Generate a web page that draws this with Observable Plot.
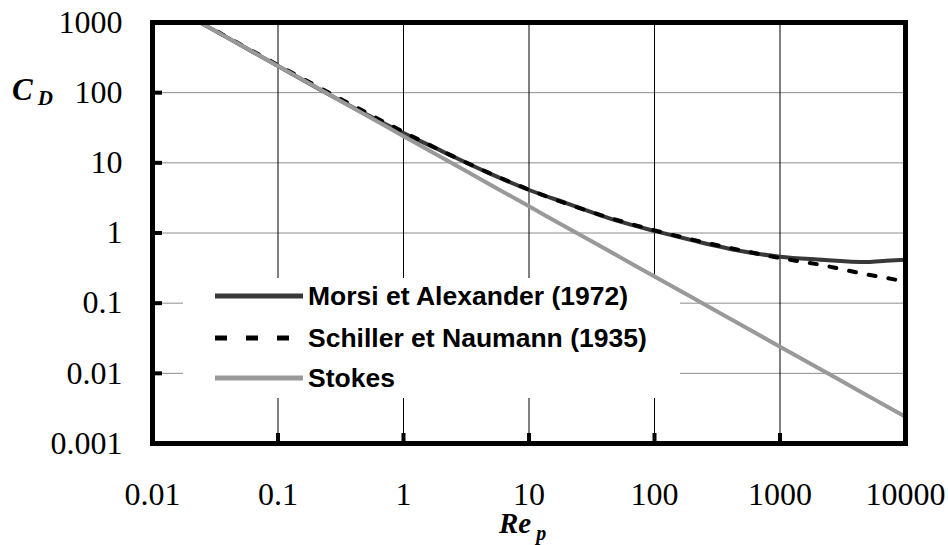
<!DOCTYPE html>
<html>
<head>
<meta charset="utf-8">
<script src="https://cdn.jsdelivr.net/npm/d3@7"></script>
<script src="https://cdn.jsdelivr.net/npm/@observablehq/plot@0.6"></script>
<style>
  html, body { margin: 0; padding: 0; background: #fff; }
  #chart { width: 948px; height: 545px; }
</style>
</head>
<body>
<div id="chart"></div>
<script>
// Tick values
const xTicks = [0.01, 0.1, 1, 10, 100, 1000, 10000];
const yTicks = [0.001, 0.01, 0.1, 1, 10, 100, 1000];

// Particle Reynolds numbers at which the curves were read
const rep = [0.024, 0.05, 0.1, 0.2, 0.5, 1, 2, 5, 10, 20, 50, 100, 200, 500, 1000, 2000, 5000, 7000, 10000];
// Drag coefficient values
const morsiCd    = [1000, 480, 240, 119.6, 49.5, 26.5, 14.83, 6.90, 4.10, 2.65, 1.50, 1.07, 0.787, 0.550, 0.460, 0.419, 0.385, 0.402, 0.417];
const schillerCd = [1011.6, 489.2, 247.4, 126.0, 52.47, 27.6, 14.9, 6.975, 4.151, 2.61, 1.538, 1.092, 0.806, 0.563, 0.438, 0.358, 0.255, 0.229, 0.203];
const stokesCd   = [1000, 480, 240, 120, 48, 24, 12, 4.8, 2.4, 1.2, 0.48, 0.24, 0.12, 0.048, 0.024, 0.012, 0.0048, 0.00343, 0.0024];

const seriesNames = ["Morsi et Alexander (1972)", "Schiller et Naumann (1935)", "Stokes"];

const rows = (ys) => rep.map((r, i) => ({re: r, cd: ys[i]}));

const serif = "'Liberation Serif', 'Times New Roman', serif";
const sans = "'Liberation Sans', Arial, sans-serif";

const plot = Plot.plot({
  width: 948,
  height: 545,
  marginLeft: 152,
  marginRight: 43,
  marginTop: 22,
  marginBottom: 102,
  style: {background: "#fff", fontFamily: serif, color: "#000"},
  x: {type: "log", domain: [0.01, 10000]},
  y: {type: "log", domain: [0.001, 1000]},
  marks: [
    Plot.ruleY(yTicks, {stroke: "#8c8c8c", strokeWidth: 1}),
    Plot.ruleX(xTicks, {stroke: "#000", strokeWidth: 1}),
    Plot.line(rows(morsiCd), {x: "re", y: "cd", stroke: "#383838", strokeWidth: 4, curve: "monotone-x", clip: true}),
    Plot.line(rows(schillerCd), {x: "re", y: "cd", stroke: "#000", strokeWidth: 4, strokeDasharray: "7,13", curve: "monotone-x", clip: true}),
    Plot.line(rows(stokesCd), {x: "re", y: "cd", stroke: "#999", strokeWidth: 4, curve: "monotone-x", clip: true}),
    Plot.axisX({ticks: xTicks, tickSize: -10, strokeWidth: 4, tickFormat: () => "", label: null}),
    Plot.axisY({ticks: yTicks, tickSize: -10, strokeWidth: 4, tickFormat: () => "", label: null}),
    Plot.axisX({ticks: xTicks, tickSize: 0, tickPadding: 39, fontSize: 32, tickFormat: d => String(d), label: null}),
    Plot.axisY({ticks: yTicks, tickSize: 0, tickPadding: 30, fontSize: 32, tickFormat: d => String(d), label: null}),
    Plot.frame({stroke: "#000", strokeWidth: 5})
  ]
});

document.getElementById("chart").appendChild(plot);

const svg = d3.select(plot);
svg.selectAll("text").style("font-family", serif).style("font-size", "32px");

// Legend box (white) placed above the grid but below the curves
const firstLine = plot.querySelector('g[aria-label="line"]');
const legendBg = document.createElementNS("http://www.w3.org/2000/svg", "rect");
legendBg.setAttribute("x", 183);
legendBg.setAttribute("y", 278);
legendBg.setAttribute("width", 497);
legendBg.setAttribute("height", 120);
legendBg.setAttribute("fill", "#fff");
firstLine.parentNode.insertBefore(legendBg, firstLine);

// Legend entries
const lg = svg.append("g").attr("text-anchor", "start");
const legendY = [296, 338, 378];
lg.append("line").attr("x1", 215).attr("x2", 303).attr("y1", legendY[0]).attr("y2", legendY[0])
  .attr("stroke", "#383838").attr("stroke-width", 5);
lg.append("line").attr("x1", 215).attr("x2", 290).attr("y1", legendY[1]).attr("y2", legendY[1])
  .attr("stroke", "#000").attr("stroke-width", 5).attr("stroke-dasharray", "12,19");
lg.append("line").attr("x1", 215).attr("x2", 303).attr("y1", legendY[2]).attr("y2", legendY[2])
  .attr("stroke", "#999").attr("stroke-width", 5);
seriesNames.forEach((name, i) => {
  lg.append("text").attr("x", 308).attr("y", legendY[i] + 9)
    .attr("text-anchor", "start")
    .style("font-family", sans).style("font-weight", "bold")
    .style("font-size", "26.5px")
    .attr("fill", "#000").text(name);
});

// Axis titles
const cd = svg.append("text").attr("x", 12).attr("y", 100).attr("text-anchor", "start")
  .style("font-family", serif).style("font-weight", "bold").style("font-style", "italic")
  .style("font-size", "31px").attr("fill", "#000");
cd.append("tspan").text("C");
cd.append("tspan").attr("dx", 5).attr("dy", 5).style("font-size", "21px").text("D");

const re = svg.append("text").attr("x", 499).attr("y", 533).attr("text-anchor", "start")
  .style("font-family", serif).style("font-weight", "bold").style("font-style", "italic")
  .style("font-size", "29px").attr("fill", "#000");
re.append("tspan").text("Re");
re.append("tspan").attr("dx", 5).attr("dy", 7).style("font-size", "20px").text("p");
</script>
</body>
</html>
